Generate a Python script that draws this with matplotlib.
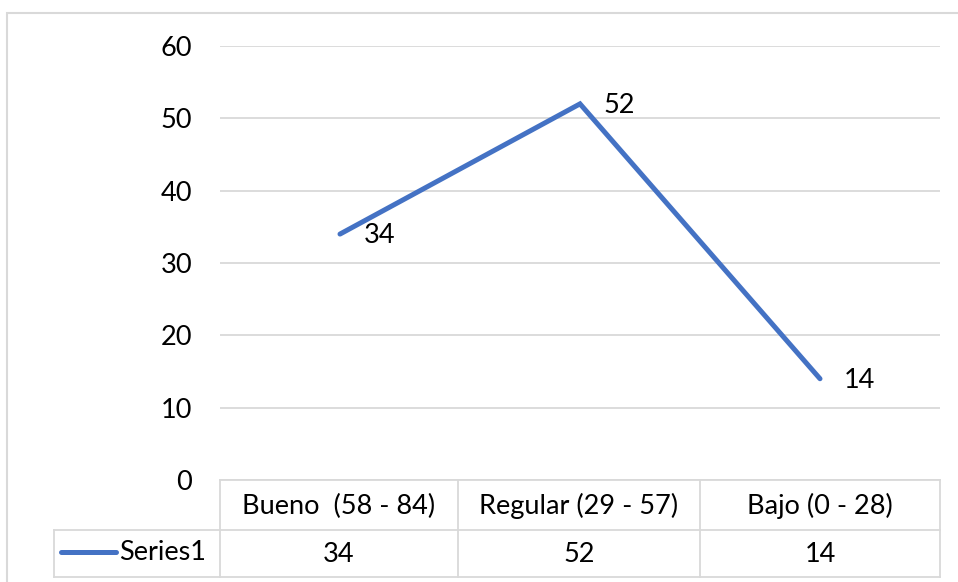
import matplotlib.pyplot as plt
from matplotlib.patches import Rectangle
from matplotlib.lines import Line2D

categories = ['Bueno  (58 - 84)', 'Regular (29 - 57)', 'Bajo (0 - 28)']
values = [34, 52, 14]
series_name = 'Series1'
yticks = [0, 10, 20, 30, 40, 50, 60]

plt.rcParams['font.family'] = ['Lato', 'DejaVu Sans']
W, H = 958, 582
fig = plt.figure(figsize=(W / 100, H / 100), dpi=100)

grid_c = '#d9d9d9'
line_c = '#4472c4'
fs = 19.5

# plot area in pixels
x0, x1 = 220, 940
ytop, ybot = 46, 480
ax = fig.add_axes([x0 / W, 1 - ybot / H, (x1 - x0) / W, (ybot - ytop) / H])
ax.set_xlim(-0.5, len(categories) - 0.5)
ax.set_ylim(0, 60)
ax.set_yticks(yticks)
ax.set_yticklabels([str(t) for t in yticks], fontsize=fs)
ax.set_xticks([])
ax.tick_params(axis='y', length=0, pad=20)
for s in ax.spines.values():
    s.set_visible(False)
ax.grid(axis='y', color=grid_c, lw=1.3)
ax.set_axisbelow(True)

xs = list(range(len(categories)))
ax.plot(xs, values, color=line_c, lw=3.6, solid_capstyle='round', solid_joinstyle='miter')
for x, v in zip(xs, values):
    ax.annotate(str(v), (x, v), xytext=(17, -1), textcoords='offset points',
                ha='left', va='center', fontsize=fs)

# chart border
fig.patches.append(Rectangle((7 / W, -0.05), 1.0, 1 - 13 / H + 0.05, transform=fig.transFigure,
                             fill=False, ec=grid_c, lw=1.5))

# data table
def fx(p):
    return p / W

def fy(p):
    return 1 - p / H

col_edges = [220, 458, 700, 940]
r0, r1, r2 = 480, 530, 577
leg_x = 54
segs = [
    ((col_edges[0], r0), (col_edges[-1], r0)),
    ((leg_x, r1), (col_edges[-1], r1)),
    ((leg_x, r2), (col_edges[-1], r2)),
    ((leg_x, r1), (leg_x, r2)),
]
for e in col_edges:
    segs.append(((e, r0), (e, r2)))
for (a, b), (c, d) in segs:
    fig.lines.append(Line2D([fx(a), fx(c)], [fy(b), fy(d)], transform=fig.transFigure,
                            color=grid_c, lw=1.3))

for i, cat in enumerate(categories):
    cx = (col_edges[i] + col_edges[i + 1]) / 2
    fig.text(fx(cx), fy((r0 + r1) / 2 + 1), cat, ha='center', va='center', fontsize=fs)
    fig.text(fx(cx), fy((r1 + r2) / 2 + 1), str(values[i]), ha='center', va='center', fontsize=fs)

fig.lines.append(Line2D([fx(61), fx(116)], [fy(552), fy(552)], transform=fig.transFigure,
                        color=line_c, lw=3.6, solid_capstyle='round'))
fig.text(fx(119), fy(553), series_name, ha='left', va='center', fontsize=fs)

fig.savefig('out.png', dpi=100)
